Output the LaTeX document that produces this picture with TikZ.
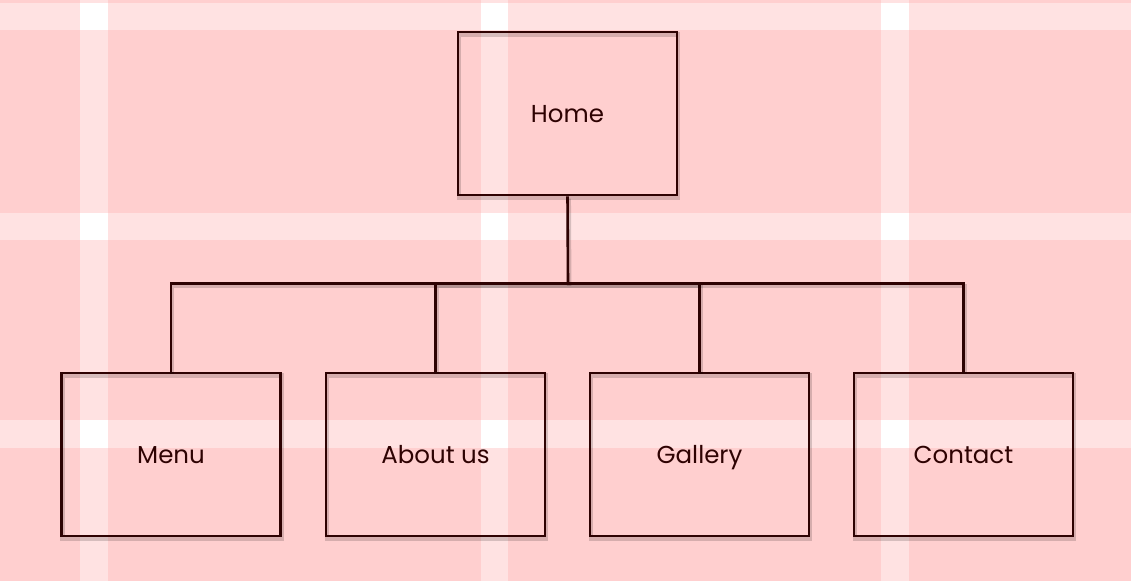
\documentclass[tikz,border=0pt]{standalone}
\usepackage{fontspec}
\setmainfont{Poppins}
\definecolor{bgpink}{HTML}{FFCFCF}
\definecolor{stripe}{HTML}{FFE2E2}
\definecolor{ink}{HTML}{2E0202}
\tikzset{
  shad/.style={preaction={draw=black, draw opacity=0.16, line width=4.5pt, transform canvas={xshift=1.2pt, yshift=-2.4pt}}},
  pagebox/.style={shad, draw=ink, line width=2.6pt, minimum width=219pt, minimum height=163pt, inner sep=0pt,
    text=ink, font=\fontsize{24.5}{28}\selectfont, text height=18pt, text depth=0pt},
  link/.style={shad, draw=ink, line width=2.6pt}
}
\begin{document}
\begin{tikzpicture}[x=1pt, y=-1pt]
\useasboundingbox (0,0) rectangle (1131,581);
\fill[bgpink] (0,0) rectangle (1131,581);
% stripes
\foreach \a/\b in {80/108, 481/508, 881/909}
  \fill[stripe] (\a,0) rectangle (\b,581);
\foreach \a/\b in {3/30, 213/240, 420/448}
  \fill[stripe] (0,\a) rectangle (1131,\b);
\foreach \a/\b in {80/108, 481/508, 881/909}
  \foreach \c/\d in {3/30, 213/240, 420/448}
    \fill[white] (\a,\c) rectangle (\b,\d);
% nodes
\node[pagebox] (home) at (567.5,113.5) {Home};
\node[pagebox] (menu) at (171,454.5) {Menu};
\node[pagebox] (about) at (435.5,454.5) {About us};
\node[pagebox] (gallery) at (699.5,454.5) {Gallery};
\node[pagebox] (contact) at (963.5,454.5) {Contact};
\coordinate (bus) at (568,283.5);
\draw[link] (home.south) -- (bus);
\draw[link] (menu.north) |- (bus);
\draw[link] (about.north) |- (bus);
\draw[link] (gallery.north) |- (bus);
\draw[link] (contact.north) |- (bus);
\end{tikzpicture}
\end{document}
